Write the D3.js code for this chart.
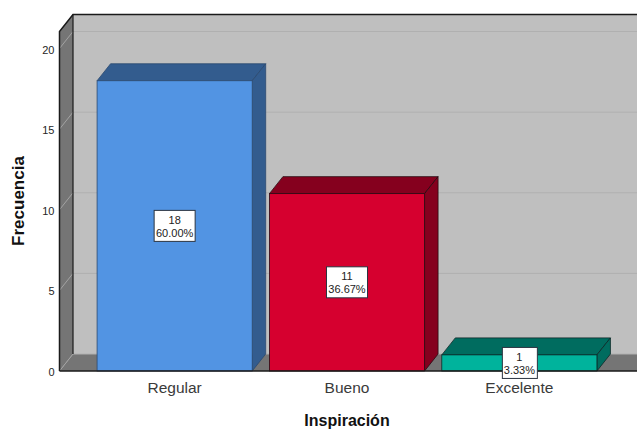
<!DOCTYPE html>
<html>
<head>
<meta charset="utf-8">
<style>
  html, body { margin: 0; padding: 0; background: #fff; }
  text { font-family: "Liberation Sans", Arial, sans-serif; }
  .domain { display: none; }
</style>
<script src="https://cdn.jsdelivr.net/npm/d3@7"></script>
</head>
<body>
<div id="chart"></div>
<script>
const categories = ['Regular', 'Bueno', 'Excelente'];
const counts = [18, 11, 1];
const percents = ['60.00%', '36.67%', '3.33%'];
const yTicks = [0, 5, 10, 15, 20];
const frontColors = ['#5294e3', '#d6002f', '#00b39c'];
const darkColors = ['#335c8e', '#85001e', '#006c5f'];
const edgeColors = ['#2c4a70', '#2a0a12', '#0c2a28'];

const width = 637, height = 430;
const left = 59.5, right = 637, baseY = 371;
const depthX = 13.5, depthY = -17;

const svg = d3.select('#chart').append('svg')
    .attr('width', width)
    .attr('height', height)
    .style('display', 'block');

const y = d3.scaleLinear().domain([0, 20]).range([baseY, 48.5]);
const x = d3.scaleBand()
    .domain(categories)
    .range([left, 634.5])
    .paddingInner(0.1)
    .paddingOuter(0.218);

const topY = y(20) + depthY - 17;
const line = d3.line();
const poly = pts => line(pts) + 'Z';

// back wall, left wall and floor
svg.append('path')
    .attr('d', poly([[left + depthX, topY], [right, topY], [right, baseY + depthY], [left + depthX, baseY + depthY]]))
    .attr('fill', '#bfbfbf');
svg.append('path')
    .attr('d', poly([[left, topY - depthY], [left + depthX, topY], [left + depthX, baseY + depthY], [left, baseY]]))
    .attr('fill', '#757575');
svg.append('path')
    .attr('d', poly([[left, baseY], [left + depthX, baseY + depthY], [right, baseY + depthY], [right, baseY]]))
    .attr('fill', '#757575');

// gridlines wrap from the left wall onto the back wall
const grid = svg.append('g');
grid.selectAll('line.back')
    .data(yTicks)
    .join('line')
    .attr('class', 'back')
    .attr('x1', left + depthX)
    .attr('x2', right)
    .attr('y1', d => y(d) + depthY)
    .attr('y2', d => y(d) + depthY)
    .attr('stroke', '#b0b0b0')
    .attr('stroke-width', 1);
grid.selectAll('line.side')
    .data(yTicks)
    .join('line')
    .attr('class', 'side')
    .attr('x1', left)
    .attr('x2', left + depthX)
    .attr('y1', d => y(d))
    .attr('y2', d => y(d) + depthY)
    .attr('stroke', '#a3a3a3')
    .attr('stroke-width', 1);

// wall outlines
svg.append('path')
    .attr('d', line([[left, baseY], [left, topY - depthY], [left + depthX, topY], [right, topY]]))
    .attr('fill', 'none')
    .attr('stroke', '#1a1a1a')
    .attr('stroke-width', 1.5);
svg.append('path')
    .attr('d', line([[left + depthX, topY], [left + depthX, baseY + depthY]]))
    .attr('fill', 'none')
    .attr('stroke', '#1a1a1a')
    .attr('stroke-width', 1.2);

// 3d bars
const bars = svg.append('g')
    .selectAll('g')
    .data(categories)
    .join('g');

bars.append('path')
    .attr('d', (d, i) => {
        const x0 = x(d), x1 = x0 + x.bandwidth(), yt = y(counts[i]);
        return poly([[x0, yt], [x0 + depthX, yt + depthY], [x1 + depthX, yt + depthY], [x1, yt]]);
    })
    .attr('fill', (d, i) => darkColors[i])
    .attr('stroke', (d, i) => edgeColors[i])
    .attr('stroke-width', 0.8);

bars.append('path')
    .attr('d', (d, i) => {
        const x1 = x(d) + x.bandwidth(), yt = y(counts[i]);
        return poly([[x1, yt], [x1 + depthX, yt + depthY], [x1 + depthX, baseY + depthY], [x1, baseY]]);
    })
    .attr('fill', (d, i) => darkColors[i])
    .attr('stroke', (d, i) => edgeColors[i])
    .attr('stroke-width', 0.8);

bars.append('rect')
    .attr('x', d => x(d))
    .attr('y', (d, i) => y(counts[i]))
    .attr('width', x.bandwidth())
    .attr('height', (d, i) => baseY - y(counts[i]))
    .attr('fill', (d, i) => frontColors[i])
    .attr('stroke', (d, i) => edgeColors[i])
    .attr('stroke-width', 0.8);

// baseline along the front edge
svg.append('line')
    .attr('x1', left)
    .attr('x2', right)
    .attr('y1', baseY)
    .attr('y2', baseY)
    .attr('stroke', '#1a1a1a')
    .attr('stroke-width', 1.5);

// axes
const yAxis = svg.append('g')
    .attr('transform', `translate(${left},1)`)
    .call(d3.axisLeft(y).tickValues(yTicks).tickSize(0).tickPadding(5));
yAxis.selectAll('text')
    .attr('font-size', 11)
    .attr('font-family', '"Liberation Sans", Arial, sans-serif')
    .attr('fill', '#262626');

const xAxis = svg.append('g')
    .attr('transform', `translate(0,${baseY})`)
    .call(d3.axisBottom(x).tickSize(0).tickPadding(10.5));
xAxis.selectAll('text')
    .attr('font-size', 15.5)
    .attr('font-family', '"Liberation Sans", Arial, sans-serif')
    .attr('fill', '#3a3a3a');

// value labels sit at the middle of the front face
const labels = svg.append('g')
    .selectAll('g')
    .data(categories)
    .join('g')
    .attr('transform', (d, i) => `translate(${x(d) + x.bandwidth() / 2},${y(counts[i] / 2)})`);

labels.append('rect')
    .attr('x', (d, i) => i === 2 ? -17 : -20.5)
    .attr('y', -15.5)
    .attr('width', (d, i) => i === 2 ? 35 : 41)
    .attr('height', 31)
    .attr('fill', '#fff')
    .attr('stroke', '#2b3440')
    .attr('stroke-width', 1);

labels.append('text')
    .attr('text-anchor', 'middle')
    .attr('y', -2)
    .attr('font-size', 11)
    .attr('fill', '#222')
    .text((d, i) => counts[i]);

labels.append('text')
    .attr('text-anchor', 'middle')
    .attr('y', 11)
    .attr('font-size', 11)
    .attr('fill', '#222')
    .text((d, i) => percents[i]);

// axis titles
svg.append('text')
    .attr('x', 347)
    .attr('y', 425.5)
    .attr('text-anchor', 'middle')
    .attr('font-size', 16)
    .attr('font-weight', 'bold')
    .attr('fill', '#111')
    .text('Inspiración');

svg.append('text')
    .attr('transform', 'translate(24,201) rotate(-90)')
    .attr('text-anchor', 'middle')
    .attr('font-size', 17)
    .attr('font-weight', 'bold')
    .attr('fill', '#111')
    .text('Frecuencia');
</script>
</body>
</html>
